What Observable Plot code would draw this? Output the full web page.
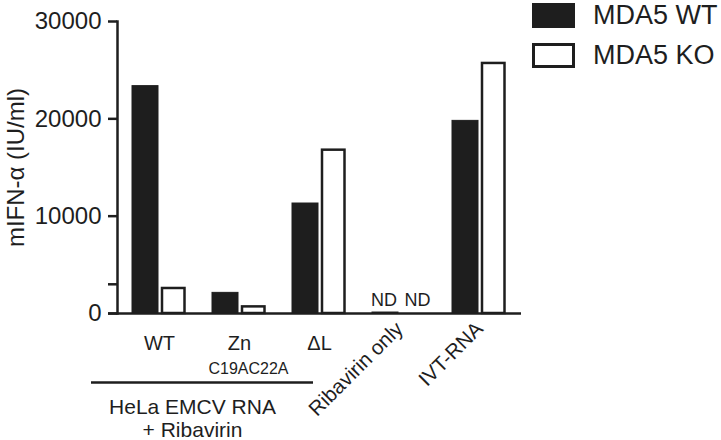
<!DOCTYPE html>
<html>
<head>
<meta charset="utf-8">
<script src="https://cdn.jsdelivr.net/npm/d3@7"></script>
<script src="https://cdn.jsdelivr.net/npm/@observablehq/plot@0.6"></script>
<style>
  body { margin: 0; background: white; }
  #wrap { position: relative; width: 721px; height: 440px; font-family: "Liberation Sans", Arial, sans-serif; color: #1e1e1e; }
  .sw { position: absolute; left: 532px; width: 43px; height: 25px; box-sizing: border-box; }
  .lt { position: absolute; left: 593px; height: 31px; line-height: 31px; font-size: 27px; white-space: nowrap; }
</style>
</head>
<body>
<div id="wrap">
  <div id="chart"></div>
  <div class="sw" style="top:3px; background:#1e1e1e;"></div>
  <div class="lt" style="top:0px;">MDA5 WT</div>
  <div class="sw" style="top:43px; background:white; border:3px solid #1e1e1e;"></div>
  <div class="lt" style="top:40px;">MDA5 KO</div>
</div>
<script>
const groups = ["WT", "Zn", "ΔL", "Ribavirin only", "IVT-RNA"];
const wtValues = [23360, 2120, 11300, 100, 19790];
const koValues = [2570, 680, 16780, 0, 25690];
const ndGroups = ["Ribavirin only"];
const straightLabels = ["WT", "Zn", "ΔL"];
const rotatedLabels = ["Ribavirin only", "IVT-RNA"];
const yTicks = [0, 3000, 10000, 20000, 30000];
const yLabeled = [0, 10000, 20000, 30000];
const yLabel = "mIFN-α (IU/ml)";
const subLabels = [{group: "Zn", text: "C19AC22A"}];
const bracket = [{from: "WT", to: "ΔL", text: "HeLa EMCV RNA\n+ Ribavirin"}];

const data = groups.map((g, i) => ({group: g, wt: wtValues[i], ko: koValues[i]}));
const nd = data.filter(d => ndGroups.includes(d.group));
const ink = "#1e1e1e";

const chart = Plot.plot({
  width: 721,
  height: 440,
  marginLeft: 117,
  marginRight: 200,
  marginTop: 21,
  marginBottom: 127,
  style: {fontFamily: "'Liberation Sans', Arial, sans-serif", color: ink, background: "white", overflow: "visible"},
  x: {domain: groups, paddingInner: 0.33, paddingOuter: 0.174, axis: null},
  y: {domain: [0, 30000], axis: null},
  marks: [
    Plot.barY(data, {x: "group", y: "wt", fill: ink, stroke: ink, strokeWidth: 1, insetRight: 28}),
    Plot.barY(data.filter(d => d.ko > 0), {x: "group", y: "ko", fill: "white", stroke: ink, strokeWidth: 2.5, insetLeft: 30, insetRight: 1.5}),
    Plot.frame({anchor: "left", stroke: ink, strokeWidth: 2.5}),
    Plot.ruleY([0], {stroke: ink, strokeWidth: 2.5, insetLeft: -9}),
    Plot.axisY({ticks: yTicks, tickFormat: d => yLabeled.includes(d) ? String(d) : "", tickSize: 9, tickPadding: 7, fontSize: 24, stroke: ink, strokeWidth: 2.5, label: null}),
    Plot.text([yLabel], {frameAnchor: "left", rotate: -90, textAnchor: "middle", dx: -101, fontSize: 24, fill: ink, text: d => d}),
    Plot.axisX({ticks: straightLabels, tickSize: 0, tickPadding: 22, fontSize: 20, label: null}),
    Plot.axisX({ticks: rotatedLabels, tickSize: 0, tickPadding: 12, tickRotate: -45, fontSize: 20.5, label: null}),
    Plot.text(nd, {x: "group", y: () => 0, text: () => "ND", dx: -15.5, dy: -13, fontSize: 18, fill: ink}),
    Plot.text(nd, {x: "group", y: () => 0, text: () => "ND", dx: 18, dy: -13, fontSize: 18, fill: ink}),
    Plot.text(subLabels, {x: "group", y: () => 0, text: "text", dx: 9, dy: 55, fontSize: 16, fill: ink}),
    Plot.ruleY(bracket, {y: () => 0, x1: "from", x2: "to", dy: 69, insetLeft: -41, insetRight: 33, stroke: ink, strokeWidth: 2.5}),
    Plot.text(bracket, {x: "from", y: () => 0, text: "text", dx: 33, dy: 105, fontSize: 21, lineHeight: 1.08, fill: ink})
  ]
});
document.getElementById("chart").append(chart);
</script>
</body>
</html>
